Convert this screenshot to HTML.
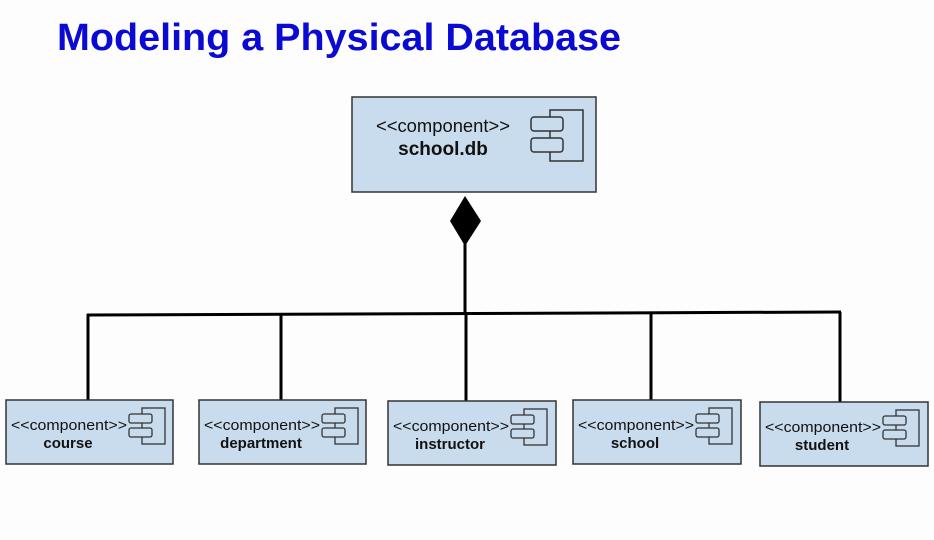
<!DOCTYPE html>
<html><head><meta charset="utf-8"><style>
html,body{margin:0;padding:0;background:#fdfdfd;}
svg{display:block;font-family:"Liberation Sans",Arial,sans-serif;}
</style></head><body>
<svg width="934" height="540" viewBox="0 0 934 540" xmlns="http://www.w3.org/2000/svg">
<rect width="934" height="540" fill="#fdfdfd"/>
<text x="57" y="50" font-size="38" font-weight="bold" fill="#0a0ad2" textLength="564" lengthAdjust="spacingAndGlyphs">Modeling a Physical Database</text>

<rect x="352" y="97" width="244" height="95" fill="#c9dcee" stroke="#333" stroke-width="1.5"/>
<text x="376" y="132" font-size="18" fill="#111" textLength="134" lengthAdjust="spacingAndGlyphs">&lt;&lt;component&gt;&gt;</text>
<text x="443" y="155" font-size="19" font-weight="bold" text-anchor="middle" fill="#111">school.db</text>
<rect x="550" y="110" width="33" height="51" fill="none" stroke="#333" stroke-width="1.5"/>
<rect x="531" y="117" width="32" height="14" rx="3" fill="#c9dcee" stroke="#333" stroke-width="1.5"/>
<rect x="531" y="138" width="32" height="14" rx="3" fill="#c9dcee" stroke="#333" stroke-width="1.5"/>

<polygon points="465,196 481,221 465,246 450,221" fill="#000"/>
<line x1="465" y1="244" x2="465" y2="314" stroke="#000" stroke-width="3"/>
<line x1="87" y1="315" x2="841" y2="312" stroke="#000" stroke-width="3"/>
<g stroke="#000" stroke-width="3">
<line x1="88" y1="314" x2="88" y2="400"/>
<line x1="281" y1="314" x2="281" y2="400"/>
<line x1="466" y1="313" x2="466" y2="401"/>
<line x1="651" y1="313" x2="651" y2="400"/>
<line x1="840" y1="312" x2="840" y2="402"/>
</g>

<g transform="translate(6,400)">
<rect x="0" y="0" width="167" height="64" fill="#c9dcee" stroke="#333" stroke-width="1.5"/>
<text x="5" y="30" font-size="15" fill="#111" textLength="116" lengthAdjust="spacingAndGlyphs">&lt;&lt;component&gt;&gt;</text>
<text x="62" y="48" font-size="15" font-weight="bold" text-anchor="middle" fill="#111">course</text>
<rect x="136" y="8" width="23" height="36" fill="none" stroke="#333" stroke-width="1.3"/>
<rect x="123" y="14" width="23" height="9" rx="2" fill="#c9dcee" stroke="#333" stroke-width="1.3"/>
<rect x="123" y="28" width="23" height="9" rx="2" fill="#c9dcee" stroke="#333" stroke-width="1.3"/>
</g>
<g transform="translate(199,400)">
<rect x="0" y="0" width="167" height="64" fill="#c9dcee" stroke="#333" stroke-width="1.5"/>
<text x="5" y="30" font-size="15" fill="#111" textLength="116" lengthAdjust="spacingAndGlyphs">&lt;&lt;component&gt;&gt;</text>
<text x="62" y="48" font-size="15" font-weight="bold" text-anchor="middle" fill="#111">department</text>
<rect x="136" y="8" width="23" height="36" fill="none" stroke="#333" stroke-width="1.3"/>
<rect x="123" y="14" width="23" height="9" rx="2" fill="#c9dcee" stroke="#333" stroke-width="1.3"/>
<rect x="123" y="28" width="23" height="9" rx="2" fill="#c9dcee" stroke="#333" stroke-width="1.3"/>
</g>
<g transform="translate(388,401)">
<rect x="0" y="0" width="168" height="64" fill="#c9dcee" stroke="#333" stroke-width="1.5"/>
<text x="5" y="30" font-size="15" fill="#111" textLength="116" lengthAdjust="spacingAndGlyphs">&lt;&lt;component&gt;&gt;</text>
<text x="62" y="48" font-size="15" font-weight="bold" text-anchor="middle" fill="#111">instructor</text>
<rect x="136" y="8" width="23" height="36" fill="none" stroke="#333" stroke-width="1.3"/>
<rect x="123" y="14" width="23" height="9" rx="2" fill="#c9dcee" stroke="#333" stroke-width="1.3"/>
<rect x="123" y="28" width="23" height="9" rx="2" fill="#c9dcee" stroke="#333" stroke-width="1.3"/>
</g>
<g transform="translate(573,400)">
<rect x="0" y="0" width="168" height="64" fill="#c9dcee" stroke="#333" stroke-width="1.5"/>
<text x="5" y="30" font-size="15" fill="#111" textLength="116" lengthAdjust="spacingAndGlyphs">&lt;&lt;component&gt;&gt;</text>
<text x="62" y="48" font-size="15" font-weight="bold" text-anchor="middle" fill="#111">school</text>
<rect x="136" y="8" width="23" height="36" fill="none" stroke="#333" stroke-width="1.3"/>
<rect x="123" y="14" width="23" height="9" rx="2" fill="#c9dcee" stroke="#333" stroke-width="1.3"/>
<rect x="123" y="28" width="23" height="9" rx="2" fill="#c9dcee" stroke="#333" stroke-width="1.3"/>
</g>
<g transform="translate(760,402)">
<rect x="0" y="0" width="168" height="64" fill="#c9dcee" stroke="#333" stroke-width="1.5"/>
<text x="5" y="30" font-size="15" fill="#111" textLength="116" lengthAdjust="spacingAndGlyphs">&lt;&lt;component&gt;&gt;</text>
<text x="62" y="48" font-size="15" font-weight="bold" text-anchor="middle" fill="#111">student</text>
<rect x="136" y="8" width="23" height="36" fill="none" stroke="#333" stroke-width="1.3"/>
<rect x="123" y="14" width="23" height="9" rx="2" fill="#c9dcee" stroke="#333" stroke-width="1.3"/>
<rect x="123" y="28" width="23" height="9" rx="2" fill="#c9dcee" stroke="#333" stroke-width="1.3"/>
</g>
</svg>
</body></html>
